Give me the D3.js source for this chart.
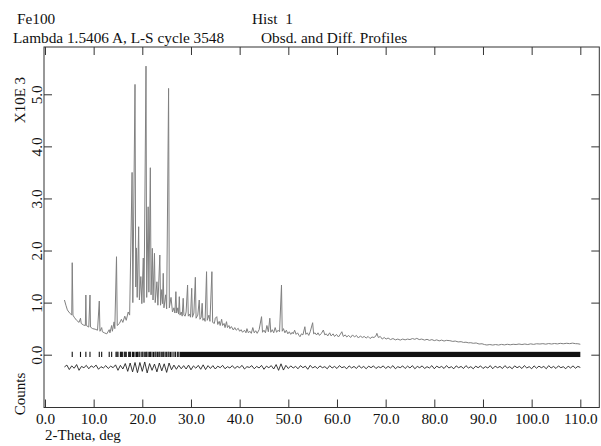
<!DOCTYPE html>
<html>
<head>
<meta charset="utf-8">
<script src="https://cdn.jsdelivr.net/npm/d3@7"></script>
<style>
  body { margin: 0; background: #fff; }
  text { font-family: "Liberation Serif", "Times New Roman", serif; fill: #111; }
</style>
</head>
<body>
<script>
const width = 601
const height = 446
const frame = ({left: 44, right: 599.3, top: 47, bottom: 407.5})

// header texts
const titleLeft = ["Fe100", "Lambda 1.5406 A, L-S cycle 3548"]
const titleRight = ["Hist  1", "Obsd. and Diff. Profiles"]

// axis ticks
const xTicks = [0, 10, 20, 30, 40, 50, 60, 70, 80, 90, 100, 110]
const yTicks = [0, 1000, 2000, 3000, 4000, 5000]

// observed profile, [2-theta, counts]
const obs = [
  [4.0,1050],[4.3,950],[4.6,860],[4.9,820],[5.2,790],[5.5,760],[5.6,1766],[5.75,760],
  [6.0,720],[6.5,660],[7.0,620],[7.3,700],[7.45,600],[7.9,570],[8.3,560],[8.4,1146],
  [8.5,560],[9.0,530],[9.25,1146],[9.35,530],[9.8,500],[10.3,490],[10.8,470],[11.16,1030],
  [11.3,450],[11.65,520],[11.8,440],[12.2,420],[12.7,400],[13.2,480],[13.35,420],[13.7,560],
  [13.85,450],[14.2,630],[14.35,500],[14.7,1881],[14.85,560],[15.3,600],[15.7,680],[16.0,620],
  [16.4,740],[16.7,660],[17.1,820],[17.4,760],[17.9,3500],[18.05,1000],[18.5,5190],[18.65,1300],
  [18.8,2050],[18.95,1100],[19.25,2457],[19.4,1050],[19.7,1500],[19.9,980],[20.2,1856],[20.35,1000],
  [20.76,5541],[20.9,1100],[21.2,2840],[21.35,1200],[21.65,3590],[21.8,1150],[22.06,2042],[22.2,1050],
  [22.5,1946],[22.65,1000],[23.0,1400],[23.2,950],[23.6,1914],[23.75,950],[24.0,1250],[24.15,980],
  [24.3,1562],[24.45,900],[24.8,1150],[25.0,880],[25.4,5113],[25.55,900],[25.9,1100],[26.2,820],
  [26.5,900],[26.7,800],[26.9,1210],[27.05,800],[27.3,900],[27.45,780],[27.6,1114],[27.75,760],
  [28.0,820],[28.2,740],[28.4,1083],[28.55,760],[28.8,740],[29.0,820],[29.3,1338],[29.45,740],
  [29.7,780],[29.9,720],[30.15,1275],[30.3,720],[30.6,800],[30.9,1486],[31.05,700],[31.4,760],
  [31.7,1050],[31.85,680],[32.1,720],[32.3,987],[32.45,660],[32.7,700],[32.9,640],[33.2,1594],
  [33.35,660],[33.7,760],[33.9,640],[34.3,1594],[34.45,620],[34.8,600],[35.0,700],[35.3,730],
  [35.5,580],[35.8,640],[36.0,560],[36.3,680],[36.5,560],[36.8,600],[37.0,520],[37.3,634],
  [37.5,520],[37.8,560],[38.0,500],[38.3,540],[38.7,474],[39.0,520],[39.3,470],[39.7,507],
  [40.0,450],[40.3,480],[40.6,430],[41.0,470],[41.3,420],[41.5,500],[41.8,420],[42.1,450],
  [42.4,410],[42.7,520],[43.0,420],[43.3,460],[43.6,410],[44.0,480],[44.5,730],[44.7,430],
  [45.0,470],[45.3,420],[45.6,560],[45.9,440],[46.2,700],[46.4,430],[46.7,480],[47.0,420],
  [47.3,520],[47.6,430],[47.9,470],[48.2,440],[48.6,1338],[48.75,450],[49.0,500],[49.3,420],
  [49.6,470],[49.9,400],[50.2,440],[50.5,390],[50.8,430],[51.0,400],[51.3,470],[51.6,390],
  [51.9,420],[52.2,370],[52.4,345],[52.7,400],[53.0,380],[53.4,537],[53.6,390],[53.9,420],
  [54.2,370],[54.5,440],[55.0,614],[55.2,400],[55.5,420],[55.8,378],[56.1,420],[56.4,370],
  [56.8,410],[57.2,474],[57.5,380],[57.8,400],[58.1,360],[58.5,420],[58.8,360],[59.2,400],
  [59.5,350],[59.9,390],[60.3,340],[60.6,380],[61.0,441],[61.3,350],[61.7,380],[62.0,340],
  [62.4,370],[62.8,330],[63.2,380],[63.6,340],[64.0,370],[64.4,320],[64.8,360],[65.2,330],
  [65.6,350],[66.0,320],[66.4,350],[66.8,310],[67.2,340],[67.6,330],[68.0,360],[68.2,410],
  [68.5,330],[68.9,350],[69.3,300],[69.7,330],[70.1,300],[70.5,320],[71.0,290],[71.5,310],
  [72.0,285],[72.5,300],[73.0,280],[73.5,300],[74.0,285],[74.5,300],[75.0,290],[75.5,310],
  [76.0,295],[76.4,314],[76.9,290],[77.4,300],[78.0,280],[78.5,295],[79.0,275],[79.5,290],
  [80.0,270],[80.5,285],[81.0,265],[81.5,280],[82.0,262],[82.5,275],[83.2,269],[83.8,255],
  [84.3,262],[84.9,245],[85.5,250],[86.0,235],[86.5,240],[87.0,228],[87.5,230],[88.0,219],
  [88.6,225],[89.2,205],[89.8,210],[90.3,195],[90.8,186],[91.4,195],[92.0,185],[92.6,195],
  [93.2,185],[93.8,198],[94.4,188],[95.0,200],[95.6,190],[96.2,200],[96.8,195],[97.4,205],
  [98.0,195],[98.6,205],[99.2,195],[99.8,208],[100.4,198],[101.0,210],[101.7,205],[102.3,212],
  [102.9,202],[103.5,214],[104.1,205],[104.7,215],[105.3,207],[105.9,218],[106.5,210],[107.2,219],
  [107.8,212],[108.4,222],[109.0,212],[109.5,210],[110.0,200]
]

// difference curve (obs - calc, offset), every 0.5 deg from 4.0
const diffStart = 4.0
const diffStep = 0.5
const diff = [
  -235,-200,-285,-215,-260,-190,-300,-225,-250,-205,
  -270,-215,-245,-200,-280,-230,-255,-210,-265,-220,
  -250,-195,-300,-205,-275,-170,-320,-160,-330,-150,
  -345,-150,-320,-140,-350,-170,-300,-180,-330,-160,
  -310,-175,-340,-160,-290,-200,-280,-205,-270,-210,
  -275,-200,-290,-215,-260,-205,-280,-195,-285,-210,
  -265,-210,-275,-220,-250,-205,-270,-230,-255,-210,
  -265,-225,-250,-205,-275,-230,-245,-210,-270,-225,
  -255,-205,-280,-220,-250,-210,-275,-190,-300,-175,
  -295,-205,-265,-215,-255,-225,-270,-210,-250,-220,
  -280,-205,-255,-225,-265,-215,-250,-230,-270,-210,
  -255,-225,-265,-210,-250,-230,-270,-215,-255,-225,
  -265,-210,-255,-225,-270,-220,-250,-215,-265,-230,
  -250,-215,-265,-225,-255,-210,-270,-230,-250,-215,
  -265,-220,-255,-210,-270,-225,-250,-215,-265,-230,
  -255,-210,-270,-220,-250,-225,-265,-210,-255,-230,
  -270,-215,-250,-225,-265,-210,-255,-230,-270,-220,
  -250,-215,-265,-230,-255,-210,-270,-220,-250,-225,
  -265,-210,-255,-230,-270,-215,-250,-225,-265,-210,
  -255,-230,-270,-215,-260,-220,-250,-225,-270,-210,
  -255,-225,-265,-215,-250,-230,-270,-220,-255,-215,
  -260,-225,-245
]

// reflection positions (deg); beyond reflBand[0] they merge into a solid bar
const refl = [5.6, 7.3, 8.4, 9.25, 11.16, 11.65, 13.2, 13.7,
  14.6, 14.8, 15.0, 15.5, 15.7, 15.9, 16.3, 16.5, 16.7, 17.2, 17.4, 17.6,
  18.0, 18.2, 18.5, 18.8, 19.0, 19.3, 19.5, 19.9, 20.1, 20.4, 20.7, 20.9,
  21.2, 21.5, 21.7, 22.0, 22.3, 22.6, 22.8, 23.1, 23.4, 23.6, 23.9, 24.2,
  24.4, 24.7, 25.0, 25.3, 25.5, 25.8, 26.1, 26.5, 26.8, 27.2, 27.5]
const reflBand = [27.7, 110.0]

const x = d3.scaleLinear().domain([-0.2, 113.9]).range([frame.left, frame.right])
const y = d3.scaleLinear().domain([-1014, 5908]).range([frame.bottom, frame.top])

const svg = d3.select("body").append("svg")
    .attr("width", width)
    .attr("height", height)
    .attr("viewBox", [0, 0, width, height])

// header
const hs = 15.3
svg.append("text").attr("x", 17).attr("y", 24).attr("font-size", hs).text(titleLeft[0])
svg.append("text").attr("x", 13).attr("y", 43).attr("font-size", hs).text(titleLeft[1])
svg.append("text").attr("x", 252).attr("y", 24).attr("font-size", hs)
    .attr("xml:space", "preserve").style("white-space", "pre").text(titleRight[0])
svg.append("text").attr("x", 261).attr("y", 43).attr("font-size", hs).text(titleRight[1])

// observed profile
const line = d3.line().x(d => x(d[0])).y(d => y(d[1]))
svg.append("path")
    .datum(obs)
    .attr("fill", "none")
    .attr("stroke", "#808080")
    .attr("stroke-width", 1)
    .attr("stroke-linejoin", "round")
    .attr("d", line)

// reflection ticks
svg.append("g")
    .attr("stroke", "#111")
    .attr("stroke-width", 1.1)
  .selectAll("line")
  .data(refl)
  .join("line")
    .attr("x1", d => x(d)).attr("x2", d => x(d))
    .attr("y1", y(55)).attr("y2", y(-45))

svg.append("rect")
    .attr("x", x(reflBand[0]))
    .attr("width", x(reflBand[1]) - x(reflBand[0]))
    .attr("y", y(55))
    .attr("height", y(-45) - y(55))
    .attr("fill", "#111")

// difference curve
svg.append("path")
    .datum(diff)
    .attr("fill", "none")
    .attr("stroke", "#222")
    .attr("stroke-width", 0.9)
    .attr("d", d3.line().x((d, i) => x(diffStart + i * diffStep)).y(d => y(d)))

// frame and axes
const tickLen = 8
const fmt = d3.format(".1f")

svg.append("g")
    .attr("transform", `translate(0,${frame.bottom})`)
    .call(d3.axisBottom(x).tickValues(xTicks).tickSize(-tickLen).tickPadding(6)
        .tickFormat(d => fmt(d)))
    .call(g => g.select(".domain").remove())
    .call(g => g.selectAll("text").attr("font-size", 15.3).attr("font-family", "Liberation Serif"))

svg.append("g")
    .attr("transform", `translate(0,${frame.top})`)
    .call(d3.axisTop(x).tickValues(xTicks).tickSize(-tickLen).tickFormat(""))
    .call(g => g.select(".domain").remove())

svg.append("g")
    .attr("transform", `translate(${frame.left},0)`)
    .call(d3.axisLeft(y).tickValues(yTicks).tickSize(-tickLen)
        .tickFormat(d => fmt(d / 1000)))
    .call(g => g.select(".domain").remove())
    .call(g => g.selectAll("text")
        .attr("x", null).attr("dy", null)
        .attr("text-anchor", "middle")
        .attr("transform", "translate(-2.5,0) rotate(-90)")
        .attr("font-size", 15.3).attr("font-family", "Liberation Serif"))

svg.append("g")
    .attr("transform", `translate(${frame.right},0)`)
    .call(d3.axisRight(y).tickValues(yTicks).tickSize(-tickLen).tickFormat(""))
    .call(g => g.select(".domain").remove())

svg.selectAll(".tick line").attr("stroke", "#333")

svg.append("rect")
    .attr("x", frame.left).attr("y", frame.top)
    .attr("width", frame.right - frame.left)
    .attr("height", frame.bottom - frame.top)
    .attr("fill", "none")
    .attr("stroke", "#333")
    .attr("stroke-width", 1)

// axis titles
svg.append("text")
    .attr("transform", "translate(25,100) rotate(-90)")
    .attr("text-anchor", "middle")
    .attr("font-size", 15)
    .text("X10E 3")
svg.append("text")
    .attr("transform", "translate(25,394) rotate(-90)")
    .attr("text-anchor", "middle")
    .attr("font-size", 15)
    .text("Counts")
svg.append("text")
    .attr("x", 45).attr("y", 440)
    .attr("font-size", 15)
    .text("2-Theta, deg")
</script>
</body>
</html>
